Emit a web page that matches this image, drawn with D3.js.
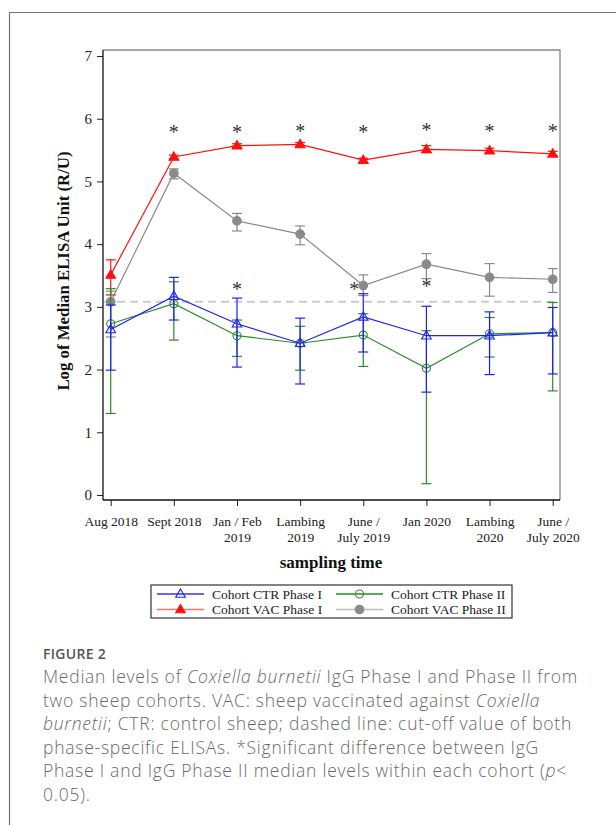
<!DOCTYPE html>
<html>
<head>
<meta charset="utf-8">
<script src="https://cdn.jsdelivr.net/npm/d3@7"></script>
<style>
  body { margin: 0; background: #fff; }
  svg { display: block; }
</style>
</head>
<body>
<script>
// sampling times (x categories), each label split in lines
var times = ["Aug 2018", "Sept 2018", "Jan / Feb 2019", "Lambing 2019", "June / July 2019", "Jan 2020", "Lambing 2020", "June / July 2020"];
var timeLines = [["Aug 2018"], ["Sept 2018"], ["Jan / Feb", "2019"], ["Lambing", "2019"], ["June /", "July 2019"], ["Jan 2020"], ["Lambing", "2020"], ["June /", "July 2020"]];
var yTicks = [0, 1, 2, 3, 4, 5, 6, 7];

// medians and error bar limits
var ctr1 = [2.64, 3.17, 2.73, 2.42, 2.84, 2.54, 2.54, 2.59];
var ctr1Lo = [1.99, 2.79, 2.04, 1.77, 2.28, 1.64, 1.92, 1.93];
var ctr1Hi = [3.03, 3.47, 3.14, 2.82, 3.21, 3.01, 2.92, 2.99];

var ctr2 = [2.73, 3.05, 2.54, 2.42, 2.55, 2.02, 2.57, 2.59];
var ctr2Lo = [1.30, 2.47, 2.21, 1.99, 2.05, 0.18, 2.20, 1.66];
var ctr2Hi = [3.29, 3.40, 2.79, 2.69, 2.89, 2.62, 2.83, 3.07];

var vac1 = [3.51, 5.39, 5.57, 5.59, 5.34, 5.51, 5.49, 5.44];
var vac1Lo = [3.19, 5.36, 5.54, 5.56, 5.31, 5.46, 5.45, 5.41];
var vac1Hi = [3.75, 5.42, 5.60, 5.62, 5.37, 5.57, 5.53, 5.48];

var vac2 = [3.08, 5.13, 4.37, 4.16, 3.34, 3.68, 3.47, 3.44];
var vac2Lo = [2.52, 5.04, 4.21, 3.99, 3.18, 3.45, 3.17, 3.23];
var vac2Hi = [3.25, 5.20, 4.49, 4.29, 3.51, 3.85, 3.69, 3.61];

var cutoff = 3.08;

// significance marks: [time index, value, side]
var stars = [[1, 5.82, "c"], [2, 5.82, "c"], [3, 5.84, "c"], [4, 5.82, "c"], [5, 5.85, "c"], [6, 5.83, "c"], [7, 5.83, "c"],
             [2, 3.32, "c"], [4, 3.31, "l"], [5, 3.36, "c"]];

var W = 616, H = 825;
var svg = d3.select("body").append("svg").attr("width", W).attr("height", H);

// outer figure frame (open on right)
svg.append("path").attr("d", "M9.5,825 V12.5 H616").attr("fill", "none").attr("stroke", "#777").attr("stroke-width", 1.2);

var x = d3.scalePoint().domain(times).range([110.7, 552.7]);
var y = d3.scaleLinear().domain([0, 7]).range([495, 56]);
var L = 103, R = 560, T = 50, B = 500;

// plot frame
svg.append("path").attr("d", "M" + L + "," + T + " H" + R + " V" + B).attr("fill", "none").attr("stroke", "#888").attr("stroke-width", 1.3);

// cut-off line
svg.append("line").attr("x1", L + 1).attr("x2", R - 1).attr("y1", y(cutoff)).attr("y2", y(cutoff))
  .attr("stroke", "#ccc").attr("stroke-width", 2).attr("stroke-dasharray", "8,5");

var serif = "'Liberation Serif', 'Times New Roman', serif";

var yAxis = svg.append("g").attr("transform", "translate(" + L + ",0)")
  .call(d3.axisLeft(y).tickValues(yTicks).tickFormat(d3.format("d")).tickSize(6).tickSizeOuter(0).tickPadding(5));
yAxis.select(".domain").remove();
yAxis.selectAll("text").attr("font-family", serif).attr("font-size", 15).attr("fill", "#222");
yAxis.selectAll("line").attr("stroke", "#222");

var xAxis = svg.append("g").attr("transform", "translate(0," + B + ")")
  .call(d3.axisBottom(x).tickSize(6).tickSizeOuter(0).tickFormat(""));
xAxis.select(".domain").remove();
xAxis.selectAll("line").attr("stroke", "#222");
xAxis.selectAll(".tick").append("text")
  .attr("font-family", serif).attr("font-size", 13.5).attr("fill", "#222").attr("text-anchor", "middle")
  .each(function(d, i) {
    var t = d3.select(this);
    timeLines[i].forEach(function(s, k) {
      t.append("tspan").attr("x", 0).attr("y", 26 + k * 16).text(s);
    });
  });

// axis lines
svg.append("line").attr("x1", L).attr("x2", L).attr("y1", T).attr("y2", B).attr("stroke", "#111").attr("stroke-width", 1.3);
svg.append("line").attr("x1", L).attr("x2", R).attr("y1", B).attr("y2", B).attr("stroke", "#111").attr("stroke-width", 1.3);

// axis titles
svg.append("text").attr("transform", "translate(69,271) rotate(-90)").attr("text-anchor", "middle")
  .attr("font-family", serif).attr("font-weight", "bold").attr("font-size", 16.8).attr("fill", "#111")
  .text("Log of Median ELISA Unit (R/U)");
svg.append("text").attr("x", 331).attr("y", 568).attr("text-anchor", "middle")
  .attr("font-family", serif).attr("font-weight", "bold").attr("font-size", 17).attr("fill", "#111")
  .text("sampling time");

var series = [
  { name: "Cohort CTR Phase I", v: ctr1, lo: ctr1Lo, hi: ctr1Hi, color: "#2020ff", legColor: "#3030ff", mark: "tri", fill: false },
  { name: "Cohort CTR Phase II", v: ctr2, lo: ctr2Lo, hi: ctr2Hi, color: "#2a8c2a", legColor: "#2a8c2a", mark: "circ", fill: false },
  { name: "Cohort VAC Phase I", v: vac1, lo: vac1Lo, hi: vac1Hi, color: "#ff1010", legColor: "#ff7070", mark: "tri", fill: true },
  { name: "Cohort VAC Phase II", v: vac2, lo: vac2Lo, hi: vac2Hi, color: "#8a8a8a", legColor: "#bbbbbb", mark: "circ", fill: true }
];

var line = d3.line().x(function(d, i) { return x(times[i]); }).y(function(d) { return y(d); });
var tri = d3.symbol().type(d3.symbolTriangle).size(40);

function marker(g, s, cx, cy) {
  if (s.mark === "tri") {
    g.append("path").attr("d", tri()).attr("transform", "translate(" + cx + "," + (cy + 0.5) + ")")
      .attr("fill", s.fill ? s.color : "none").attr("stroke", s.color).attr("stroke-width", 1.1);
  } else {
    g.append("circle").attr("cx", cx).attr("cy", cy).attr("r", s.fill ? 4.3 : 4)
      .attr("fill", s.fill ? s.color : "none").attr("stroke", s.color).attr("stroke-width", 1.1);
  }
}

// draw order: gray, red, green, blue so CTR lines sit on top
[3, 2, 1, 0].forEach(function(k) {
  var s = series[k];
  var g = svg.append("g");
  s.v.forEach(function(v, i) {
    var cx = x(times[i]);
    g.append("line").attr("x1", cx).attr("x2", cx).attr("y1", y(s.lo[i])).attr("y2", y(s.hi[i]))
      .attr("stroke", s.color).attr("stroke-width", 1.2);
    [s.lo[i], s.hi[i]].forEach(function(e) {
      g.append("line").attr("x1", cx - 5).attr("x2", cx + 5).attr("y1", y(e)).attr("y2", y(e))
        .attr("stroke", s.color).attr("stroke-width", 1.2);
    });
  });
  g.append("path").attr("d", line(s.v)).attr("fill", "none").attr("stroke", s.color).attr("stroke-width", 1.2);
  s.v.forEach(function(v, i) { marker(g, s, x(times[i]), y(v)); });
});

// asterisks
svg.selectAll(".star").data(stars).enter().append("text")
  .attr("x", function(d) { return x(times[d[0]]) + (d[2] === "l" ? -9 : 0); })
  .attr("y", function(d) { return y(d[1]) + 9; })
  .attr("text-anchor", "middle").attr("font-family", serif).attr("font-size", 20).attr("fill", "#333")
  .text("*");

// legend
var lg = svg.append("g");
lg.append("rect").attr("x", 151).attr("y", 585).attr("width", 361).attr("height", 33)
  .attr("fill", "#fff").attr("stroke", "#333").attr("stroke-width", 1.2);
series.forEach(function(s, i) {
  var col = i % 2, row = Math.floor(i / 2);
  var lx = 157 + col * 179, ly = 594 + row * 15.5;
  lg.append("line").attr("x1", lx).attr("x2", lx + 47).attr("y1", ly).attr("y2", ly)
    .attr("stroke", s.legColor).attr("stroke-width", 1.5);
  marker(lg, s, lx + 23.5, ly);
  lg.append("text").attr("x", lx + 55).attr("y", ly + 4.5)
    .attr("font-family", serif).attr("font-size", 13.5).attr("fill", "#222").text(s.name);
});

// caption
var sans = "'Open Sans', Lato, sans-serif";
svg.append("text").attr("x", 43).attr("y", 659).attr("font-family", sans).attr("font-weight", "600")
  .attr("font-size", 14).attr("letter-spacing", 0.3).attr("fill", "#555").text("FIGURE 2");

var caption = [
  [["Median levels of ", false], ["Coxiella burnetii", true], [" IgG Phase I and Phase II from", false]],
  [["two sheep cohorts. VAC: sheep vaccinated against ", false], ["Coxiella", true]],
  [["burnetii", true], ["; CTR: control sheep; dashed line: cut-off value of both", false]],
  [["phase-specific ELISAs. *Significant difference between IgG", false]],
  [["Phase I and IgG Phase II median levels within each cohort (", false], ["p", true], ["<", false]],
  [["0.05).", false]]
];
var cap = svg.append("text").attr("font-family", sans).attr("font-weight", "300").attr("font-size", 17.5)
  .attr("letter-spacing", 0.75).attr("fill", "#6a6a6a");
caption.forEach(function(parts, i) {
  parts.forEach(function(p, j) {
    var ts = cap.append("tspan").text(p[0]).attr("font-style", p[1] ? "italic" : "normal");
    if (j === 0) ts.attr("x", 43).attr("y", 683 + i * 23.5);
  });
});
</script>
</body>
</html>
